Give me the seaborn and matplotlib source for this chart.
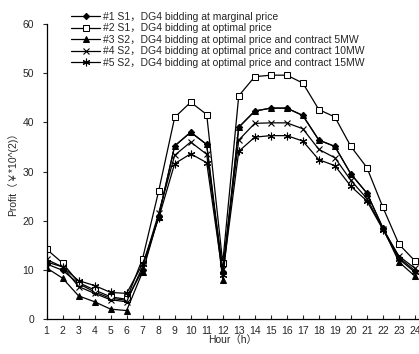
import numpy as np
import pandas as pd
import seaborn as sns
import matplotlib
matplotlib.use('Agg')
import matplotlib.pyplot as plt

hours = list(range(1, 25))

s1_marginal = [11.2, 9.9, 7.2, 5.5, 4.2, 3.8, 10.0, 21.0, 35.2, 38.0, 35.5, 9.5,
               39.0, 42.3, 42.9, 42.9, 41.4, 36.4, 35.1, 29.5, 25.6, 18.5, 12.5, 9.8]
s1_optimal = [14.2, 11.4, 7.4, 5.9, 4.5, 4.0, 12.3, 26.0, 41.0, 44.1, 41.6, 11.4,
              45.4, 49.3, 49.6, 49.6, 48.0, 42.6, 41.1, 35.1, 30.8, 22.7, 15.2, 11.8]
s2_contract5 = [10.4, 8.3, 4.7, 3.5, 2.0, 1.7, 9.6, 20.8, 35.2, 38.0, 35.5, 8.0,
                39.0, 42.3, 42.9, 42.9, 41.4, 36.4, 35.1, 29.5, 25.6, 18.5, 11.6, 8.7]
s2_contract10 = [12.1, 10.6, 6.6, 5.2, 3.9, 3.5, 10.6, 21.5, 33.3, 36.0, 33.5, 10.2,
                 36.4, 39.8, 39.9, 39.9, 38.7, 34.5, 32.8, 28.2, 24.5, 18.3, 12.8, 10.3]
s2_contract15 = [11.6, 10.6, 7.8, 6.8, 5.4, 5.2, 11.2, 20.5, 31.6, 33.6, 31.8, 9.0,
                 34.1, 37.0, 37.3, 37.3, 36.2, 32.4, 31.2, 27.0, 24.0, 18.2, 12.2, 9.5]

labels = ['#1 S1，DG4 bidding at marginal price',
          '#2 S1，DG4 bidding at optimal price',
          '#3 S2，DG4 bidding at optimal price and contract 5MW',
          '#4 S2，DG4 bidding at optimal price and contract 10MW',
          '#5 S2，DG4 bidding at optimal price and contract 15MW']

sns.set_style('ticks')
plt.rcParams['font.family'] = ['Liberation Sans', 'Noto Sans CJK SC', 'DejaVu Sans']

fig = plt.figure(figsize=(4.19, 3.54), dpi=100)
ax = fig.add_axes([0.111, 0.099, 0.887, 0.833])

styles = [dict(marker='D', markersize=3.2, markerfacecolor='black'),
          dict(marker='s', markersize=4.5, markerfacecolor='white'),
          dict(marker='^', markersize=5, markerfacecolor='black'),
          dict(marker='x', markersize=5, markeredgewidth=0.8),
          dict(marker=(6, 2, 0), markersize=5.5, markeredgewidth=0.8)]
series = [s1_marginal, s1_optimal, s2_contract5, s2_contract10, s2_contract15]

for vals, lab, st in zip(series, labels, styles):
    df = pd.DataFrame({'hour': hours, 'profit': vals})
    sns.lineplot(x='hour', y='profit', data=df, ax=ax, color='black', linewidth=0.9,
                 markeredgecolor='black', label=lab, **st)

ax.set_xlim(1, 24.2)
ax.set_ylim(0, 60)
ax.set_xticks(hours)
ax.set_yticks([0, 10, 20, 30, 40, 50, 60])
ax.tick_params(axis='x', direction='in', length=3, width=0.8, labelsize=7.5, pad=5)
ax.tick_params(axis='y', direction='out', length=3, width=0.8, labelsize=7.5, pad=6)
for side in ['top', 'right']:
    ax.spines[side].set_visible(False)
for side in ['left', 'bottom']:
    ax.spines[side].set_linewidth(0.9)
    ax.spines[side].set_color('black')

ax.set_xlabel('Hour（h）', fontsize=7.5, labelpad=-1)
ax.set_ylabel('Profit（￥*10^(2)）', fontsize=7.5, labelpad=3)

ax.legend(loc='upper left', bbox_to_anchor=(0.055, 1.056), frameon=False, fontsize=7.5,
          handlelength=2.8, handletextpad=0.3, labelspacing=0.15, borderaxespad=0)

fig.savefig('out.png', dpi=100)
